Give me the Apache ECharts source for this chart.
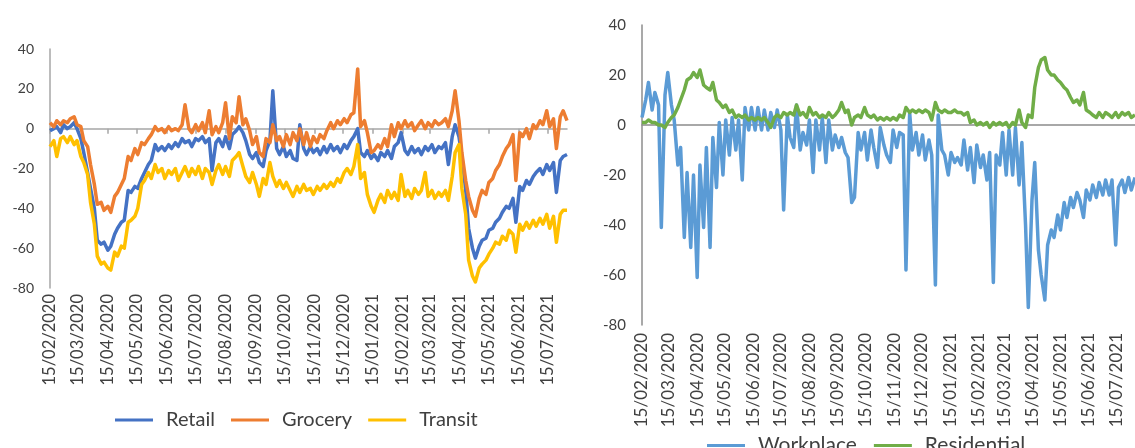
<!DOCTYPE html>
<html><head><meta charset="utf-8">
<script src="https://cdn.jsdelivr.net/npm/echarts/dist/echarts.min.js"></script>
<style>html,body{margin:0;padding:0;background:#fff}#c{width:1135px;height:448px}</style>
</head><body><div id="c"></div>
<script>
// Month tick labels (15th of each month)
const tickLabels = ['15/02/2020','15/03/2020','15/04/2020','15/05/2020','15/06/2020','15/07/2020','15/08/2020','15/09/2020','15/10/2020','15/11/2020','15/12/2020','15/01/2021','15/02/2021','15/03/2021','15/04/2021','15/05/2021','15/06/2021','15/07/2021'];
const startDate = '15/02/2020';
const lastDay = 536; // days after start date (approx. 04/08/2021)

// Values sampled twice a week (Saturdays and Wednesdays) starting 15/02/2020
const retail = [
-1,0,1,-2,2,0,1,3,0,-5,
-12,-22,-30,-40,-56,-58,-57,-61,-59,-53,
-50,-47,-46,-31,-32,-29,-30,-25,-22,-18,
-16,-8,-11,-9,-11,-8,-10,-7,-9,-5,
-7,-6,-9,-5,-6,-4,-7,-5,-21,-7,
-5,-9,-4,-10,-3,-1,1,-2,-6,-13,
-15,-12,-17,-19,-11,-6,19,-10,-13,-9,
-14,-11,-15,-16,2,-10,-13,-9,-12,-10,
-13,-9,-12,-8,-11,-9,-12,-8,-10,-6,
-4,0,-12,-14,-11,-15,-13,-16,-12,-14,
-11,-15,-9,-7,-2,-11,-13,-9,-12,-10,
-13,-9,-11,-8,-12,-9,-10,-7,-18,-4,
2,-4,-14,-31,-50,-60,-65,-59,-56,-55,
-51,-50,-47,-45,-42,-39,-40,-35,-47,-29,
-31,-26,-28,-24,-22,-20,-23,-18,-21,-17,
-32,-16,-14,-13];
const grocery = [
3,1,4,2,4,3,5,6,2,1,
-6,-9,-18,-28,-38,-37,-41,-39,-42,-34,
-32,-28,-25,-14,-16,-10,-13,-7,-8,-5,
-3,1,-1,0,-2,1,-1,0,-1,2,
12,0,-2,2,-1,3,-2,9,-3,1,
-2,3,13,-5,6,3,16,2,5,-1,
-8,-4,-12,-14,-5,-7,2,-6,-4,-9,
-3,-8,-2,-6,0,-8,-2,-9,-4,-7,
-3,-5,-1,3,0,4,2,5,3,7,
8,30,1,4,-2,-12,-11,-8,-10,-5,
-9,2,-4,3,0,4,1,3,-1,2,
4,0,3,1,4,2,3,5,1,9,
19,4,-12,-26,-34,-41,-44,-35,-31,-33,
-27,-25,-21,-18,-14,-10,-8,-3,-26,-2,
-4,0,-5,2,0,4,2,9,1,5,
-10,6,9,4];
const transit = [
-9,-6,-14,-5,-4,-7,-4,-8,-6,-14,
-17,-23,-37,-48,-64,-68,-67,-70,-71,-62,
-64,-59,-60,-47,-46,-44,-40,-28,-26,-22,
-25,-18,-22,-20,-25,-21,-23,-20,-26,-22,
-19,-24,-20,-23,-19,-25,-20,-22,-28,-21,
-18,-23,-19,-24,-16,-14,-12,-19,-24,-27,
-22,-28,-34,-25,-28,-17,-24,-29,-26,-30,
-27,-31,-34,-29,-32,-28,-31,-30,-33,-29,
-31,-28,-30,-27,-29,-25,-27,-22,-20,-23,
-19,-8,-25,-22,-33,-39,-42,-36,-33,-37,
-31,-35,-32,-36,-23,-34,-31,-35,-30,-33,
-31,-22,-34,-31,-35,-32,-34,-31,-36,-24,
-12,-8,-30,-43,-66,-74,-77,-70,-68,-66,
-63,-60,-57,-58,-54,-56,-51,-53,-62,-48,
-51,-47,-50,-46,-49,-45,-48,-43,-50,-44,
-57,-43,-41,-41];
const workplace = [
3,10,17,6,13,8,-41,12,21,8,
2,-16,-9,-45,-19,-49,-20,-61,-16,-41,
-9,-49,-5,-25,1,-20,2,-12,3,-10,
2,-22,7,-2,7,-2,7,-2,6,-2,
5,-1,6,-2,-34,4,-5,-9,8,-10,
-3,-8,2,-19,2,-10,3,-15,2,-10,
-4,-9,-5,-11,-13,-31,-29,-3,-10,-3,
-14,-2,-9,-17,-1,-8,-12,-15,-2,-9,
-3,-4,-58,5,-10,-3,-12,-4,-14,-6,
-12,-64,4,-10,-12,-20,-11,-15,-13,-16,
-6,-18,-9,-23,-8,-17,-12,-22,-11,-63,
-12,-16,-3,-20,-2,-20,-1,-24,-7,-40,
-73,-30,-15,-50,-60,-70,-48,-42,-45,-36,
-42,-31,-37,-29,-33,-27,-30,-37,-26,-30,
-24,-29,-23,-28,-22,-28,-22,-48,-25,-22,
-27,-21,-26,-21];
const residential = [
1,1,2,1,1,0,0,-1,1,3,
4,7,10,14,18,19,21,19,22,16,
15,14,17,10,9,7,8,5,6,3,
4,3,4,2,3,2,3,2,3,1,
-1,3,4,3,5,4,5,4,8,4,
5,3,7,4,5,3,4,3,5,3,
4,6,9,5,6,0,3,4,3,7,
4,3,4,2,3,2,3,2,3,2,
4,3,7,5,6,5,6,5,6,5,
2,9,6,5,6,5,5,6,5,5,
4,5,1,2,0,1,0,1,-1,1,
0,1,0,1,-1,1,0,6,1,-1,
4,3,15,23,26,27,22,20,20,18,
17,15,14,11,9,10,8,13,6,5,
4,3,5,3,5,4,3,5,3,5,
4,5,3,4];

// sample schedule: Saturday, Wednesday, Saturday, ...
const sampleDays = [];
for (let w = 0; sampleDays.length < retail.length; w++) { sampleDays.push(7 * w); sampleDays.push(7 * w + 4); }
function parseDMY(s) { const p = s.split('/'); return Date.UTC(+p[2], +p[1] - 1, +p[0]); }
const t0 = parseDMY(startDate);
const tickDays = tickLabels.map(s => Math.round((parseDMY(s) - t0) / 86400000));
function labelFor(v) { const i = tickDays.indexOf(Math.round(v)); return i >= 0 ? tickLabels[i] : ''; }
const pts = arr => sampleDays.map((d, i) => [d, arr[i]]);

const FONT = 'Lato, "Noto Sans", sans-serif';
const TXT = '#404040';

function labelAxis(grid, margin, fs) {
  return {gridIndex: grid, type: 'value', min: 0, max: lastDay, position: 'bottom',
    axisLine: {show: false, onZero: false}, axisTick: {show: false}, splitLine: {show: false},
    axisLabel: {rotate: 90, margin: margin, fontSize: fs, color: TXT, fontFamily: FONT,
      customValues: tickDays, formatter: labelFor, showMinLabel: true, showMaxLabel: true, hideOverlap: false}};
}
function zeroAxis(grid, color, ticks) {
  return {gridIndex: grid, type: 'value', min: 0, max: lastDay, position: 'bottom',
    axisLine: {show: true, onZero: true, lineStyle: {color: color, width: 1.5}},
    axisTick: {show: ticks, length: 5, customValues: tickDays, lineStyle: {color: color, width: 1.5}},
    axisLabel: {show: false}, splitLine: {show: false}};
}
function yAx(grid, color, fs) {
  return {gridIndex: grid, type: 'value', min: -80, max: 40, interval: 20,
    axisLine: {show: true, onZero: false, lineStyle: {color: color, width: 1.5}},
    axisTick: {show: false}, splitLine: {show: false},
    axisLabel: {fontSize: fs, margin: 16, color: TXT, fontFamily: FONT}};
}
function line(name, arr, color, xi, yi) {
  return {name: name, type: 'line', data: pts(arr), xAxisIndex: xi, yAxisIndex: yi,
    showSymbol: false, symbol: 'none', color: color,
    lineStyle: {width: 3.5, color: color, join: 'round'}};
}

const chart = echarts.init(document.getElementById('c'), null, {renderer: 'canvas'});
chart.setOption({
  animation: false,
  backgroundColor: '#fff',
  grid: [
    {left: 50, right: 568, top: 49, bottom: 160},
    {left: 642, right: -13, top: 25, bottom: 123}
  ],
  xAxis: [labelAxis(0, 6, 16.5), zeroAxis(0, '#A6A6A6', true), labelAxis(1, 8, 17), zeroAxis(1, '#8C8C8C', false)],
  yAxis: [yAx(0, '#A6A6A6', 14), yAx(1, '#8C8C8C', 15)],
  legend: [
    {data: ['Retail', 'Grocery', 'Transit'], left: 110, top: 405, icon: 'rect', itemWidth: 38, itemHeight: 3, itemGap: 16,
      textStyle: {fontSize: 20, color: TXT, fontFamily: FONT, padding: [0, 0, 0, 8]}},
    {data: ['Workplace', 'Residential'], left: 702, top: 430, icon: 'rect', itemWidth: 38, itemHeight: 3, itemGap: 17,
      textStyle: {fontSize: 21, color: TXT, fontFamily: FONT, padding: [0, 0, 0, 8]}}
  ],
  series: [
    line('Retail', retail, '#4472C4', 0, 0),
    line('Grocery', grocery, '#ED7D31', 0, 0),
    line('Transit', transit, '#FFC000', 0, 0),
    line('Workplace', workplace, '#5B9BD5', 2, 1),
    line('Residential', residential, '#70AD47', 2, 1)
  ]
});
</script></body></html>
